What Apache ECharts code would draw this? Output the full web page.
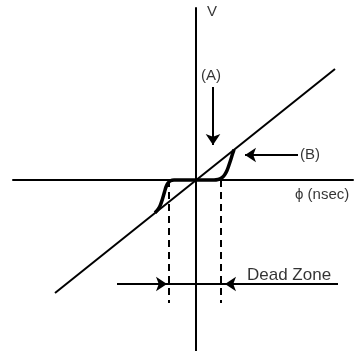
<!DOCTYPE html>
<html>
<head>
<meta charset="utf-8">
<script src="https://cdn.jsdelivr.net/npm/echarts@6/dist/echarts.min.js"></script>
<style>
  html, body { margin: 0; padding: 0; background: #fff; }
  #main { width: 355px; height: 351px; }
</style>
</head>
<body>
<div id="main"></div>
<script>
// units: phi along x, V along y, origin where the axes cross
var transferLine = [[-14.1, -11.3], [13.9, 11.1]];          // straight V = k*phi
var curveB = [[0, 0], [1.8, 0], [2.2, 0.05], [2.55, 0.2], [2.85, 0.5], [3.1, 0.95], [3.3, 1.5], [3.5, 2.1], [3.65, 2.6], [3.8, 3.04]];
var curveLeft = [[0, 0], [-2.2, 0], [-2.55, -0.08], [-2.8, -0.3], [-3.0, -0.7], [-3.15, -1.2], [-3.35, -1.9], [-3.6, -2.6], [-3.85, -3.0], [-4.1, -3.28]];
var deadLeft = [[-2.7, 0], [-2.7, -12.3]];
var deadRight = [[2.5, 0], [2.5, -12.3]];
var deadZoneY = -10.4;
var deadZoneBar = [[-7.9, deadZoneY], [14.2, deadZoneY]];

// arrows: [from, to]
var arrows = [
    [[1.7, 9.3], [1.7, 3.5]],          // (A)
    [[10.2, 2.5], [4.9, 2.5]],         // (B)
    [[-7.9, deadZoneY], [-2.9, deadZoneY]],
    [[14.2, deadZoneY], [2.9, deadZoneY]]
];

// text labels: [x, y, text, align, size]
var labels = [
    [1.6, 16.8, 'V', 'center', 15],
    [1.5, 10.4, '(A)', 'center', 15],
    [10.4, 2.5, '(B)', 'left', 15],
    [9.9, -1.5, 'ϕ (nsec)', 'left', 15],
    [5.1, -9.5, 'Dead Zone', 'left', 17]
];

var myChart = echarts.init(document.getElementById('main'));

var labelData = labels.map(function (l) {
    return {
        value: [l[0], l[1]],
        label: { formatter: l[2], align: l[3], fontSize: l[4] }
    };
});

var arrowData = arrows.map(function (a) {
    return [{ coord: a[0] }, { coord: a[1] }];
});

function plainLine(data, width, type) {
    return {
        type: 'line',
        data: data,
        symbol: 'none',
        lineStyle: { color: '#000', width: width, type: type || 'solid' },
        silent: true
    };
}

var curveBSeries = plainLine(curveB, 3.5);
curveBSeries.smooth = 0.3;
var curveLeftSeries = plainLine(curveLeft, 3.5);
curveLeftSeries.smooth = 0.3;

var myOption = {
    animation: false,
    backgroundColor: '#fff',
    grid: { left: 13, right: 2, top: 8, bottom: 0 },
    xAxis: {
        type: 'value',
        min: -18.3,
        max: 15.7,
        axisLine: { onZero: true, lineStyle: { color: '#000', width: 2 } },
        axisTick: { show: false },
        axisLabel: { show: false },
        splitLine: { show: false }
    },
    yAxis: {
        type: 'value',
        min: -17.1,
        max: 17.2,
        axisLine: { onZero: true, lineStyle: { color: '#000', width: 2 } },
        axisTick: { show: false },
        axisLabel: { show: false },
        splitLine: { show: false }
    },
    series: [
        plainLine(transferLine, 2),
        curveBSeries,
        curveLeftSeries,
        plainLine(deadLeft, 2, [7, 5]),
        plainLine(deadRight, 2, [7, 5]),
        plainLine(deadZoneBar, 2),
        {
            type: 'line',
            data: [],
            markLine: {
                silent: true,
                symbol: ['none', 'arrow'],
                symbolSize: 11,
                label: { show: false },
                lineStyle: { color: '#000', width: 2, type: 'solid' },
                data: arrowData
            }
        },
        {
            type: 'scatter',
            symbolSize: 0,
            silent: true,
            label: {
                show: true,
                position: 'inside',
                color: '#000',
                fontFamily: 'Liberation Sans',
                verticalAlign: 'middle'
            },
            data: labelData
        }
    ]
};

myChart.setOption(myOption);
</script>
</body>
</html>
